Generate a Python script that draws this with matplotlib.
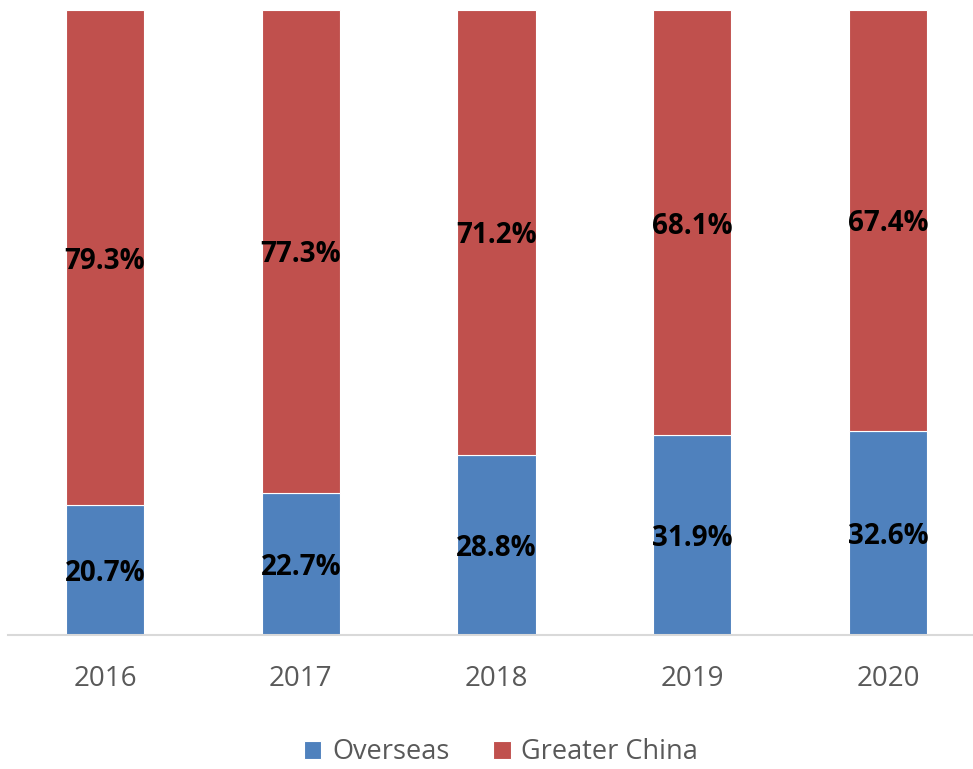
import matplotlib
matplotlib.use("Agg")
import matplotlib.pyplot as plt
import numpy as np

years = ["2016", "2017", "2018", "2019", "2020"]
overseas = [20.7, 22.7, 28.8, 31.9, 32.6]
greater_china = [79.3, 77.3, 71.2, 68.1, 67.4]

blue = "#4F81BD"
red = "#C0504D"

plt.rcParams["font.family"] = ["Open Sans", "DejaVu Sans"]

fig = plt.figure(figsize=(9.73, 7.69), dpi=100)
ax = fig.add_axes([0.0082, 0.1749, 0.9918, 0.8121])

x = np.arange(len(years))
ov = np.array(overseas)
gc = np.array(greater_china)

b1 = ax.bar(x, ov, width=0.4, color=blue, edgecolor="white", linewidth=0.8,
            label="Overseas")
b2 = ax.bar(x, gc, bottom=ov, width=0.4, color=red, edgecolor="white",
            linewidth=0.8, label="Greater China")

# labels sit a touch below the segment middle
for i in range(len(years)):
    ax.text(x[i], ov[i] / 2, "{:.1f}%".format(ov[i]), ha="center",
            va="center_baseline", fontsize=20, fontweight="bold",
            color="black")
    ax.text(x[i], ov[i] + gc[i] / 2, "{:.1f}%".format(gc[i]), ha="center",
            va="center_baseline", fontsize=20, fontweight="bold",
            color="black")

ax.set_xlim(-0.4955, 4.434)
ax.set_ylim(0, 100)
ax.set_xticks(x)
ax.set_xticklabels(years, fontsize=20, color="#595959")
ax.tick_params(axis="x", length=0, pad=22)
ax.set_yticks([])
for s in ["top", "right", "left"]:
    ax.spines[s].set_visible(False)
ax.spines["bottom"].set_color("#D9D9D9")
ax.spines["bottom"].set_linewidth(1.5)

fig.legend(handles=[b1, b2], loc="center", bbox_to_anchor=(0.515, 0.022),
           ncol=2, frameon=False, fontsize=19.5, handlelength=0.65,
           handleheight=0.65, handletextpad=0.4, columnspacing=1.6,
           labelcolor="#595959", borderpad=0.2)

fig.savefig("out.png", dpi=100)
